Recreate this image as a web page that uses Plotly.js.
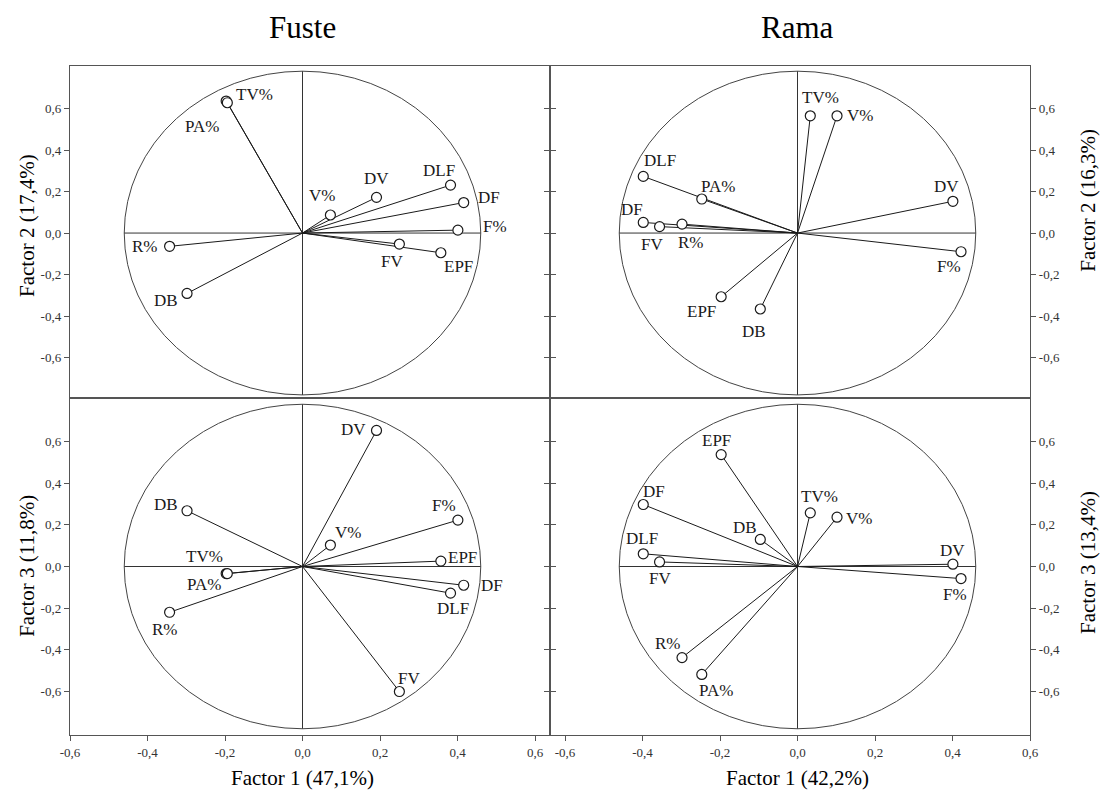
<!DOCTYPE html>
<html>
<head>
<meta charset="utf-8">
<script src="https://cdn.plot.ly/plotly-3.0.1.min.js"></script>
<style>
  html, body { margin: 0; padding: 0; background: #fff; }
  #chart { width: 1106px; height: 794px; }
</style>
</head>
<body>
<div id="chart"></div>
<script>
// Variables shown in every correlation circle
const variables = ['TV%', 'PA%', 'DV', 'V%', 'DLF', 'DF', 'F%', 'FV', 'EPF', 'R%', 'DB'];

// Fuste (stem) factor loadings
const fusteF1 = [-0.197, -0.194, 0.191, 0.072, 0.382, 0.416, 0.401, 0.250, 0.357, -0.343, -0.298];
const fusteF2 = [0.636, 0.628, 0.172, 0.087, 0.231, 0.147, 0.014, -0.053, -0.095, -0.064, -0.291];
const fusteF3 = [-0.034, -0.034, 0.654, 0.103, -0.128, -0.090, 0.223, -0.601, 0.026, -0.220, 0.268];

// Rama (branch) factor loadings
const ramaF1 = [0.033, -0.247, 0.401, 0.102, -0.398, -0.398, 0.422, -0.356, -0.197, -0.298, -0.096];
const ramaF2 = [0.565, 0.164, 0.153, 0.565, 0.273, 0.051, -0.090, 0.031, -0.307, 0.043, -0.366];
const ramaF3 = [0.258, -0.519, 0.011, 0.237, 0.061, 0.298, -0.058, 0.022, 0.538, -0.438, 0.130];

// Column headings and axis titles
const columnTitles = ['Fuste', 'Rama'];
const factor1Titles = ['Factor 1 (47,1%)', 'Factor 1 (42,2%)'];
const factor2Titles = ['Factor 2 (17,4%)', 'Factor 2 (16,3%)'];
const factor3Titles = ['Factor 3 (11,8%)', 'Factor 3 (13,4%)'];

// Tick values and their comma-decimal labels
const tickValues = [-0.6, -0.4, -0.2, 0, 0.2, 0.4, 0.6];
const tickLabels = ['-0,6', '-0,4', '-0,2', '0,0', '0,2', '0,4', '0,6'];

// Half-axes of the reference ellipse drawn in each panel
const ellipseRx = 0.46;
const ellipseRy = 0.78;

// Pixel offsets of each variable label from its point, per panel (order follows `variables`)
const labelShift = {
  tl: [[28, 7], [-25, -24], [0, 19], [-8, 20], [-12, 15], [25, 5], [37, 4], [-7, -17], [18, -14], [-25, 0], [-21, -7]],
  tr: [[10, 18], [16, 13], [-6, 15], [23, 0], [17, 16], [-11, 13], [-12, -15], [-8, -18], [-20, -15], [9, -18], [-6, -22]],
  bl: [[-22, 17], [-23, -11], [-23, 1], [18, 13], [2, -15], [28, 0], [-14, 15], [10, 13], [22, 4], [-5, -17], [-21, 6]],
  br: [[9, 16], [14, -16], [0, 14], [22, -1], [-1, 15], [11, 13], [-6, -16], [0, -17], [-5, 14], [-14, 14], [-15, 12]]
};

const panels = [
  { key: 'tl', xa: 'x',  ya: 'y',  xs: fusteF1, ys: fusteF2 },
  { key: 'tr', xa: 'x2', ya: 'y2', xs: ramaF1,  ys: ramaF2 },
  { key: 'bl', xa: 'x3', ya: 'y3', xs: fusteF1, ys: fusteF3 },
  { key: 'br', xa: 'x4', ya: 'y4', xs: ramaF1,  ys: ramaF3 }
];

const serif = '"Liberation Serif", "DejaVu Serif", serif';
const ink = '#1a1a1a';

const traces = [];
const shapes = [];
const annotations = [];

panels.forEach(p => {
  // vectors from the origin to every loading
  const lx = [], ly = [];
  p.xs.forEach((v, i) => { lx.push(0, v, null); ly.push(0, p.ys[i], null); });
  traces.push({
    type: 'scatter', mode: 'lines', x: lx, y: ly, xaxis: p.xa, yaxis: p.ya,
    line: { color: ink, width: 1 }, hoverinfo: 'skip'
  });
  // open circle markers at the vector tips
  traces.push({
    type: 'scatter', mode: 'markers', x: p.xs, y: p.ys, xaxis: p.xa, yaxis: p.ya,
    text: variables, hoverinfo: 'text',
    marker: { symbol: 'circle', size: 10, color: '#ffffff', line: { color: ink, width: 1.2 } }
  });
  // labels
  variables.forEach((name, i) => {
    const s = labelShift[p.key][i];
    annotations.push({
      xref: p.xa, yref: p.ya, x: p.xs[i], y: p.ys[i], text: name, showarrow: false,
      xshift: s[0], yshift: s[1], xanchor: 'center', yanchor: 'middle',
      font: { family: serif, size: 17, color: ink }
    });
  });
  // ellipse and cross lines
  shapes.push({
    type: 'circle', xref: p.xa, yref: p.ya, x0: -ellipseRx, x1: ellipseRx, y0: -ellipseRy, y1: ellipseRy,
    line: { color: '#444', width: 1 }, layer: 'below'
  });
  shapes.push({
    type: 'line', xref: p.xa, yref: p.ya, x0: -ellipseRx, x1: ellipseRx, y0: 0, y1: 0,
    line: { color: '#333', width: 1 }, layer: 'below'
  });
  shapes.push({
    type: 'line', xref: p.xa, yref: p.ya, x0: 0, x1: 0, y0: -ellipseRy, y1: ellipseRy,
    line: { color: '#333', width: 1 }, layer: 'below'
  });
});

// column headings
annotations.push({ xref: 'x', yref: 'paper', x: 0, y: 1.057, text: columnTitles[0], showarrow: false,
  yanchor: 'middle', font: { family: serif, size: 31, color: '#000' } });
annotations.push({ xref: 'x2', yref: 'paper', x: 0, y: 1.057, text: columnTitles[1], showarrow: false,
  yanchor: 'middle', font: { family: serif, size: 31, color: '#000' } });

// bottom axis titles
annotations.push({ xref: 'x3', yref: 'paper', x: 0, y: -0.064, text: factor1Titles[0], showarrow: false,
  yanchor: 'middle', font: { family: serif, size: 21, color: '#000' } });
annotations.push({ xref: 'x4', yref: 'paper', x: 0, y: -0.064, text: factor1Titles[1], showarrow: false,
  yanchor: 'middle', font: { family: serif, size: 21, color: '#000' } });

// side axis titles
const sideTitle = (text, x, y) => ({ xref: 'paper', yref: 'paper', x, y, text, showarrow: false, textangle: -90,
  xanchor: 'center', yanchor: 'middle', font: { family: serif, size: 21, color: '#000' } });
annotations.push(sideTitle(factor2Titles[0], -0.045, 0.762));
annotations.push(sideTitle(factor3Titles[0], -0.045, 0.2526));
annotations.push(sideTitle(factor2Titles[1], 1.0604, 0.80));
annotations.push(sideTitle(factor3Titles[1], 1.0604, 0.2586));

const frame = { showgrid: false, zeroline: false, showline: true, linecolor: '#555', linewidth: 1.2,
  fixedrange: true, tickcolor: '#555', ticklen: 5, tickwidth: 1,
  tickfont: { family: serif, size: 13, color: '#333' } };

const xLeftRange = [-0.6, 0.6387];
const xRightRange = [-0.6387, 0.6];
const yTopRange = [-0.795, 0.805];
const yBottomRange = [-0.81, 0.81];
const splitY = 0.5037;

const layout = {
  width: 1106, height: 794,
  margin: { l: 70, r: 76, t: 66, b: 59 },
  paper_bgcolor: '#fff', plot_bgcolor: '#fff',
  showlegend: false,
  font: { family: serif },
  xaxis:  Object.assign({}, frame, { domain: [0, 0.5], range: xLeftRange, anchor: 'y', ticks: '', showticklabels: false, mirror: true }),
  yaxis:  Object.assign({}, frame, { domain: [splitY, 1], range: yTopRange, anchor: 'x', ticks: 'outside',
    tickvals: tickValues, ticktext: tickLabels, mirror: 'ticks' }),
  xaxis2: Object.assign({}, frame, { domain: [0.5, 1], range: xRightRange, anchor: 'y2', ticks: '', showticklabels: false, mirror: true }),
  yaxis2: Object.assign({}, frame, { domain: [splitY, 1], range: yTopRange, anchor: 'x2', side: 'right', ticks: 'outside',
    tickvals: tickValues, ticktext: tickLabels, mirror: 'ticks' }),
  xaxis3: Object.assign({}, frame, { domain: [0, 0.5], range: xLeftRange, anchor: 'y3', ticks: 'outside',
    tickvals: tickValues, ticktext: tickLabels, mirror: true }),
  yaxis3: Object.assign({}, frame, { domain: [0, splitY], range: yBottomRange, anchor: 'x3', ticks: 'outside',
    tickvals: tickValues, ticktext: tickLabels, mirror: 'ticks' }),
  xaxis4: Object.assign({}, frame, { domain: [0.5, 1], range: xRightRange, anchor: 'y4', ticks: 'outside',
    tickvals: tickValues, ticktext: tickLabels, mirror: true }),
  yaxis4: Object.assign({}, frame, { domain: [0, splitY], range: yBottomRange, anchor: 'x4', side: 'right', ticks: 'outside',
    tickvals: tickValues, ticktext: tickLabels, mirror: 'ticks' }),
  shapes, annotations
};

Plotly.newPlot('chart', traces, layout, { displayModeBar: false, staticPlot: true });
</script>
</body>
</html>
